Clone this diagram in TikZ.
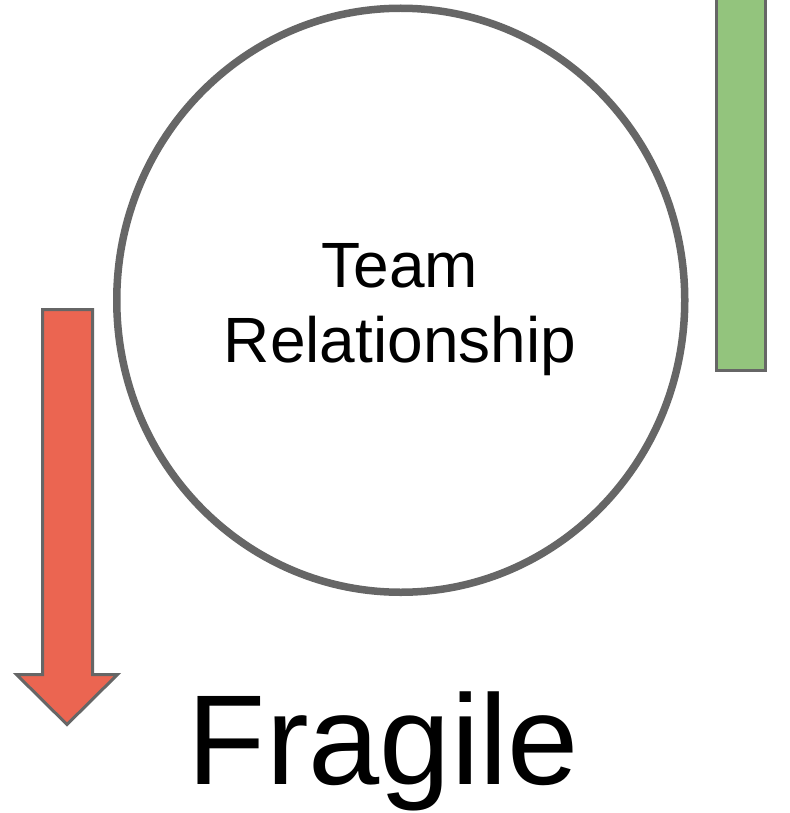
\documentclass[tikz,border=0pt]{standalone}
\usepackage{fontspec}
\setmainfont{Liberation Sans}
\usetikzlibrary{shapes.geometric}
\definecolor{strokegray}{RGB}{102,102,102}
\definecolor{arrowred}{RGB}{235,101,81}
\definecolor{bargreen}{RGB}{147,196,125}
\tikzset{
  shapeline/.style={draw=strokegray, line width=3pt, line join=miter},
  ringstyle/.style={draw=strokegray, line width=7.5pt, ellipse, minimum width=568pt, minimum height=584pt, inner sep=0pt},
}
\begin{document}
\begin{tikzpicture}[x=1pt,y=-1pt]
\useasboundingbox (0,0) rectangle (789,813);
\clip (0,0) rectangle (789,813);
\fill[white] (0,0) rectangle (789,813);
% green bar (head off the page)
\draw[shapeline, fill=bargreen] (716.5,-20) rectangle (765.5,370.5);
% red down arrow
\coordinate (tip) at (67,724.5);
\draw[shapeline, fill=arrowred]
  (42.5,309.5) -- (92.5,309.5) -- (92.5,674.5) -- (117.5,674.5) -- (tip)
  -- (16.5,674.5) -- (42.5,674.5) -- cycle;
% circle
\node[ringstyle] (rel) at (400.75,300.25) {};
\node[font=\fontsize{64}{75}\selectfont, align=center, inner sep=0pt] (reltext) at (400,309.5)
  {Team\\Relationship};
% label
\node[font=\fontsize{128}{128}\selectfont, anchor=base, inner sep=0pt] (fragile) at (383.5,784) {Fragile};
\end{tikzpicture}
\end{document}
